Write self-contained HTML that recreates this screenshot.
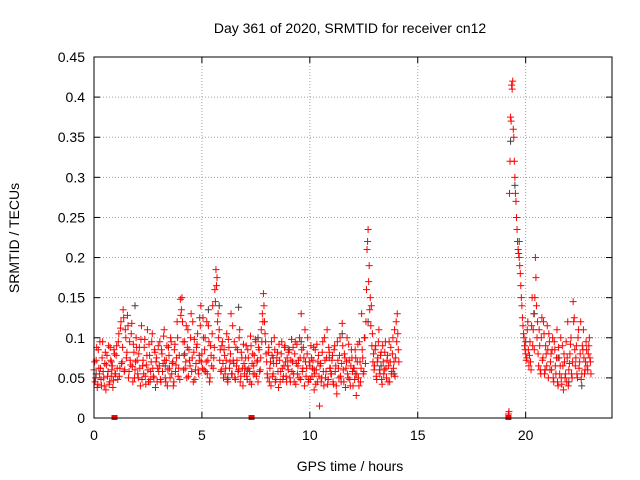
<!DOCTYPE html>
<html><head><meta charset="utf-8"><style>
html,body{margin:0;padding:0;background:#fff;}
svg{display:block;font-family:"Liberation Sans",sans-serif;}
</style></head><body>
<svg id="chart" width="640" height="480" viewBox="0 0 640 480" xmlns="http://www.w3.org/2000/svg">
<rect width="640" height="480" fill="#fff"/>
<text x="350" y="33" font-size="14" text-anchor="middle" fill="#000">Day 361 of 2020, SRMTID for receiver cn12</text>
<text x="350" y="471" font-size="14" text-anchor="middle" fill="#000">GPS time / hours</text>
<text transform="translate(19,238) rotate(-90)" font-size="14" text-anchor="middle" fill="#000">SRMTID / TECUs</text>
<g id="grid"></g>
<g id="ticks"></g>
<g id="gray"></g>
<g id="red"></g>
<rect x="94" y="57" width="518" height="361" fill="none" stroke="#000" stroke-width="1"/>
</svg>
<script>
const xTicks=[0,5,10,15,20];
const yTicks=[0,0.05,0.1,0.15,0.2,0.25,0.3,0.35,0.4,0.45];
const yTickLabels=["0","0.05","0.1","0.15","0.2","0.25","0.3","0.35","0.4","0.45"];
const seg1Start=0, seg1Step=0.05;
const seg1Values=[60,45,72,38,85,55,62,40,95,50,68,35,78,58,42,88,52,65,47,80,
55,90,48,105,62,120,70,135,58,110,75,128,50,95,66,118,45,82,60,100,
72,50,88,40,115,65,55,98,42,78,60,92,48,70,105,52,85,38,75,62,
58,95,45,80,68,110,50,72,40,88,62,100,55,70,45,92,66,120,52,78,
148,135,120,60,95,70,50,110,85,65,130,75,45,98,60,88,105,55,72,140,
80,125,60,100,70,55,115,45,90,65,140,75,160,185,175,130,110,85,60,95,
50,78,62,105,45,88,70,130,55,72,95,48,65,85,60,110,52,75,40,68,
62,90,48,75,58,102,42,80,65,55,95,70,45,85,60,110,130,155,120,95,
70,50,88,62,40,78,55,100,45,68,82,38,72,58,95,48,65,90,52,75,
60,85,45,98,70,55,80,42,92,65,50,75,130,58,88,40,70,62,100,48,
65,90,52,72,35,85,60,45,78,15,68,50,95,40,72,58,110,48,82,62,
55,78,42,90,65,30,72,50,100,45,118,60,80,38,70,55,92,48,65,75,
40,62,85,28,70,50,95,45,130,75,58,100,120,210,235,190,150,140,105,80,
65,90,48,75,110,55,82,42,70,60,95,50,78,65,45,88,58,100,70,52,
120,130,85];
const seg1bStart=0.025;
const seg1bValues=[70,50,88,42,62,95,48,75,58,40,82,66,52,90,45,72,60,38,85,55,
78,62,95,52,112,68,88,125,60,100,82,115,58,72,105,64,92,50,70,88,
55,80,62,98,48,72,88,52,66,110,45,78,58,95,62,50,82,70,45,90,
65,48,85,58,102,72,45,90,60,78,50,95,68,40,85,58,75,100,62,48,
128,150,95,78,62,115,88,52,72,100,58,120,82,48,68,92,60,78,115,70,
62,100,85,58,120,72,95,50,78,105,62,88,145,165,120,100,72,58,90,68,
85,55,72,48,98,62,80,55,115,68,50,88,72,58,100,45,82,62,92,55,
75,52,85,62,45,90,68,55,78,98,52,72,88,58,75,95,120,140,105,80,
55,82,45,70,95,52,68,85,48,75,58,92,45,80,62,52,88,70,45,65,
82,50,72,58,88,45,95,68,55,72,100,48,85,62,75,110,52,80,45,70,
48,75,62,88,55,42,92,70,52,65,45,82,58,100,50,75,42,88,62,55,
72,45,85,58,40,95,62,78,52,68,90,45,75,62,100,50,72,40,85,58,
62,48,75,55,92,40,70,62,85,55,100,68,160,220,170,135,115,90,70,60,
85,52,70,95,60,78,48,90,55,82,62,72,45,95,70,55,80,62,110,75,
95,105,70];
const seg2Start=19.2, seg2Step=0.05;
const seg2Values=[5,280,375,415,420,350,300,270,235,210,200,180,150,125,105,90,80,75,120,65,
95,60,150,110,85,200,140,120,65,90,55,125,75,105,60,80,115,50,95,70,
60,100,45,85,55,110,40,75,65,50,90,35,70,55,45,120,60,80,100,50,
145,125,65,90,50,110,70,120,55,85,75,60,95,65,80,100,70];
const seg2bStart=19.225;
const seg2bValues=[8,320,370,410,360,320,280,250,220,205,190,165,140,115,100,85,72,110,85,78,
70,115,90,130,150,175,100,80,110,60,100,72,120,55,90,65,85,105,60,80,
85,50,95,65,75,45,88,55,100,42,65,80,50,95,75,40,68,92,55,70,
120,85,75,55,100,62,80,48,90,110,55,70,85,60,90,75,55];
const grayTimes=[0.1,0.8,1.9,2.6,3.3,4.2,4.9,5.3,5.8,6.2,6.7,7.1,7.6,8.3,9.0,9.6,10.2,10.9,11.5,12.1,12.7,13.3,13.9,19.3,19.5,19.7,20.0,20.4,20.9,21.5,22.0,22.6];
const grayValues=[55,70,140,45,65,80,125,135,140,50,138,60,100,75,85,95,60,75,105,55,120,65,55,345,290,220,95,130,60,75,45,40];
const zeroTimes=[0.95,7.3,19.2];

const X0=94,X1=612,Y0=418,Y1=57,XMAX=24,YMAX=0.45;
const sx=t=>X0+(X1-X0)*t/XMAX;
const sy=v=>Y0-(Y0-Y1)*v/YMAX;
const NS="http://www.w3.org/2000/svg";
function mk(tag,attrs,parent){const e=document.createElementNS(NS,tag);for(const k in attrs)e.setAttribute(k,attrs[k]);parent.appendChild(e);return e;}
const grid=document.getElementById('grid'),ticks=document.getElementById('ticks');
xTicks.forEach(t=>{
  const x=sx(t);
  if(t>0){const g=mk('line',{x1:x,x2:x,y1:Y1,y2:Y0,stroke:'#a0a0a0','stroke-dasharray':'1,2'},grid);
  
  }
  mk('line',{x1:x,x2:x,y1:Y0,y2:Y0-6,stroke:'#000'},ticks);
  mk('line',{x1:x,x2:x,y1:Y1,y2:Y1+6,stroke:'#000'},ticks);
  const l=mk('text',{x:x,y:Y0+22,'font-size':14,'text-anchor':'middle',fill:'#000'},ticks);
  l.textContent=String(t);
  
  
});
yTicks.forEach((v,i)=>{
  const y=sy(v);
  if(i>0&&i<yTicks.length-1){const g=mk('line',{x1:X0,x2:X1,y1:y,y2:y,stroke:'#a0a0a0','stroke-dasharray':'1,2'},grid);
  
  }
  mk('line',{x1:X0,x2:X0+6,y1:y,y2:y,stroke:'#000'},ticks);
  mk('line',{x1:X1,x2:X1-6,y1:y,y2:y,stroke:'#000'},ticks);
  const l=mk('text',{x:X0-9,y:y+5,'font-size':14,'text-anchor':'end',fill:'#000'},ticks);
  l.textContent=yTickLabels[i];
  
  
});
function plus(g,t,v,color){
  const x=sx(t),y=sy(v/1000);
  const p=mk('path',{d:`M${x-3.5},${y}H${x+3.5}M${x},${y-3.5}V${y+3.5}`,stroke:color,'stroke-width':1,fill:'none'},g);
  
  
}
const gray=document.getElementById('gray'),red=document.getElementById('red');
grayValues.forEach((v,i)=>plus(gray,grayTimes[i],v,'#404040'));
seg1Values.forEach((v,i)=>plus(red,seg1Start+i*seg1Step,v,'#ff0000'));
seg1bValues.forEach((v,i)=>plus(red,seg1bStart+i*seg1Step,v,'#ff0000'));
seg2Values.forEach((v,i)=>plus(red,seg2Start+i*seg2Step,v,'#ff0000'));
seg2bValues.forEach((v,i)=>plus(red,seg2bStart+i*seg2Step,v,'#ff0000'));
zeroTimes.forEach(t=>{
  const r=mk('rect',{x:sx(t)-3,y:Y0-3,width:6,height:5,fill:'#ff0000'},red);
  
  
});
</script>
</body></html>
